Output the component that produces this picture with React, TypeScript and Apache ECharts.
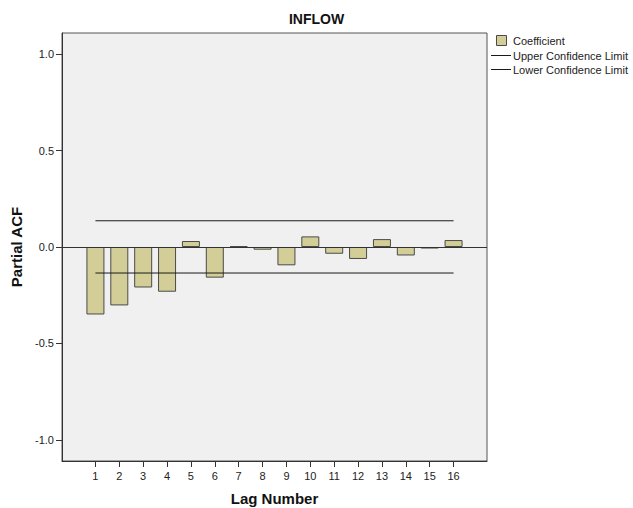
import React, { useEffect, useRef } from "react";
import * as echarts from "echarts";

const lags = [1, 2, 3, 4, 5, 6, 7, 8, 9, 10, 11, 12, 13, 14, 15, 16];
const coefficients = [
  -0.35, -0.303, -0.21, -0.232, 0.031, -0.159, 0.004, -0.014, -0.095, 0.055,
  -0.035, -0.062, 0.041, -0.044, -0.008, 0.036,
];
const upperLimit = 0.136;
const lowerLimit = -0.135;
const yTicks = [-1, -0.5, 0, 0.5, 1];
const legendLabels = ["Coefficient", "Upper Confidence Limit", "Lower Confidence Limit"];

const FONT = "'Liberation Sans', Arial, sans-serif";
const BAR_FILL = "#d3ce97";
const BAR_EDGE = "#4a4a4a";

export default function App() {
  const ref = useRef<HTMLDivElement>(null);
  useEffect(() => {
    if (!ref.current) return;
    const chart = echarts.init(ref.current, null, { renderer: "svg", width: 633, height: 508 });
    chart.setOption({
      animation: false,
      backgroundColor: "#ffffff",
      textStyle: { fontFamily: FONT },
      title: {
        text: "INFLOW",
        left: "center",
        top: 12,
        padding: 0,
        textStyle: { fontFamily: FONT, fontSize: 14, fontWeight: "bold", color: "#111" },
      },
      grid: {
        left: 62,
        top: 33,
        right: 146,
        bottom: 47,
        outerBoundsMode: "none",
        containLabel: false,
        show: true,
        backgroundColor: "#f0f0f0",
        borderColor: "#555",
        borderWidth: 1,
      },
      xAxis: {
        type: "value",
        min: -0.4,
        max: 17.4,
        name: "Lag Number",
        nameLocation: "middle",
        nameGap: 30,
        nameTextStyle: { fontFamily: FONT, fontSize: 15, fontWeight: "bold", color: "#111" },
        axisLine: { show: true, onZero: false, lineStyle: { color: "#333" } },
        axisTick: { show: true, length: 6, customValues: lags, lineStyle: { color: "#333" } },
        axisLabel: {
          customValues: lags,
          margin: 9,
          fontSize: 11,
          color: "#222",
          fontFamily: FONT,
          formatter: (v: number) => String(v),
        },
        splitLine: { show: false },
      },
      yAxis: {
        type: "value",
        min: -1.11,
        max: 1.11,
        name: "Partial ACF",
        nameLocation: "middle",
        nameGap: 36,
        nameTextStyle: { fontFamily: FONT, fontSize: 15, fontWeight: "bold", color: "#111" },
        axisLine: { show: true, onZero: false, lineStyle: { color: "#333" } },
        axisTick: { show: true, length: 6, customValues: yTicks, lineStyle: { color: "#333" } },
        axisLabel: {
          customValues: yTicks,
          margin: 8,
          fontSize: 11,
          color: "#222",
          fontFamily: FONT,
          formatter: (v: number) => v.toFixed(1),
        },
        splitLine: { show: false },
      },
      series: [
        {
          name: legendLabels[0],
          type: "bar",
          barWidth: 18,
          data: lags.map((l, i) => [l, coefficients[i]]),
          itemStyle: { color: BAR_FILL, borderColor: BAR_EDGE, borderWidth: 1 },
          markLine: {
            silent: true,
            symbol: "none",
            label: { show: false },
            lineStyle: { color: "#333", width: 1, type: "solid" },
            data: [{ yAxis: 0 }],
          },
        },
        {
          name: legendLabels[1],
          type: "line",
          symbol: "none",
          data: [
            [lags[0], upperLimit],
            [lags[lags.length - 1], upperLimit],
          ],
          lineStyle: { color: "#1a1a1a", width: 1 },
        },
        {
          name: legendLabels[2],
          type: "line",
          symbol: "none",
          data: [
            [lags[0], lowerLimit],
            [lags[lags.length - 1], lowerLimit],
          ],
          lineStyle: { color: "#1a1a1a", width: 1 },
        },
      ],
      graphic: [
        {
          type: "rect",
          shape: { x: 496.5, y: 35.5, width: 10, height: 10 },
          style: { fill: BAR_FILL, stroke: BAR_EDGE, lineWidth: 1 },
        },
        {
          type: "text",
          x: 513,
          y: 41,
          style: { text: legendLabels[0], fontSize: 11, fontFamily: FONT, fill: "#222", verticalAlign: "middle" },
        },
        {
          type: "line",
          shape: { x1: 491, y1: 55.5, x2: 511, y2: 55.5 },
          style: { stroke: "#1a1a1a", lineWidth: 1 },
        },
        {
          type: "text",
          x: 513,
          y: 56,
          style: { text: legendLabels[1], fontSize: 11, fontFamily: FONT, fill: "#222", verticalAlign: "middle" },
        },
        {
          type: "line",
          shape: { x1: 491, y1: 69.5, x2: 511, y2: 69.5 },
          style: { stroke: "#1a1a1a", lineWidth: 1 },
        },
        {
          type: "text",
          x: 513,
          y: 70,
          style: { text: legendLabels[2], fontSize: 11, fontFamily: FONT, fill: "#222", verticalAlign: "middle" },
        },
      ],
    });
    return () => chart.dispose();
  }, []);
  return (
    <div
      ref={ref}
      style={{ position: "absolute", left: 0, top: 0, width: 633, height: 508 }}
    />
  );
}
